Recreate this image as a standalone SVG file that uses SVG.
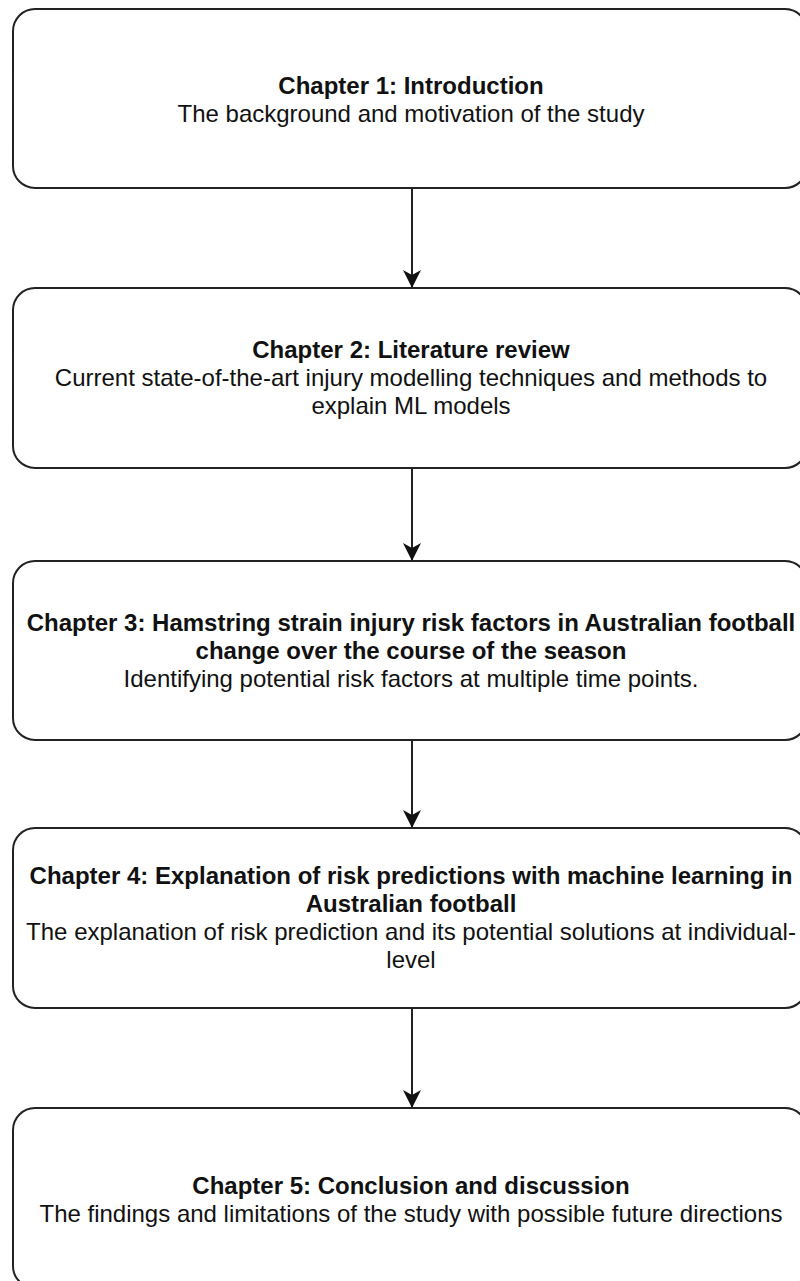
<svg xmlns="http://www.w3.org/2000/svg" width="800" height="1281" viewBox="0 0 800 1281">
<style>
.box{fill:#fff;stroke:#222;stroke-width:2}
.t{font-family:"Liberation Sans",Arial,Helvetica,sans-serif;font-size:24px;fill:#111;text-anchor:middle}
.b{font-weight:bold}
.edge{stroke:#222;stroke-width:2;fill:none}
</style>
<defs>
<marker id="arr" viewBox="0 0 18 18" refX="18" refY="9" markerWidth="18" markerHeight="18" markerUnits="userSpaceOnUse" orient="auto">
<path d="M0,0 L18,9 L0,18 L5,9 Z" fill="#111"/>
</marker>
</defs>
<rect width="800" height="1281" fill="#fff"/>
<g id="connectors">
<line class="edge" x1="412" y1="188" x2="412" y2="288" marker-end="url(#arr)"/>
<line class="edge" x1="412" y1="468" x2="412" y2="561" marker-end="url(#arr)"/>
<line class="edge" x1="412" y1="740" x2="412" y2="828" marker-end="url(#arr)"/>
<line class="edge" x1="412" y1="1008" x2="412" y2="1108" marker-end="url(#arr)"/>
</g>
<g id="ch1">
<rect class="box" x="13" y="9" width="794" height="179" rx="22" ry="22"/>
<text class="t b" x="411" y="94">Chapter 1: Introduction</text>
<text class="t" x="411" y="122">The background and motivation of the study</text>
</g>
<g id="ch2">
<rect class="box" x="13" y="288" width="794" height="180" rx="22" ry="22"/>
<text class="t b" x="411" y="358">Chapter 2: Literature review</text>
<text class="t" x="411" y="386">Current state-of-the-art injury modelling techniques and methods to</text>
<text class="t" x="411" y="414">explain ML models</text>
</g>
<g id="ch3">
<rect class="box" x="13" y="561" width="794" height="179" rx="22" ry="22"/>
<text class="t b" x="411" y="631">Chapter 3: Hamstring strain injury risk factors in Australian football</text>
<text class="t b" x="411" y="659">change over the course of the season</text>
<text class="t" x="411" y="687">Identifying potential risk factors at multiple time points.</text>
</g>
<g id="ch4">
<rect class="box" x="13" y="828" width="794" height="180" rx="22" ry="22"/>
<text class="t b" x="411" y="884">Chapter 4: Explanation of risk predictions with machine learning in</text>
<text class="t b" x="411" y="912">Australian football</text>
<text class="t" x="411" y="940">The explanation of risk prediction and its potential solutions at individual-</text>
<text class="t" x="411" y="968">level</text>
</g>
<g id="ch5">
<rect class="box" x="13" y="1108" width="794" height="180" rx="22" ry="22"/>
<text class="t b" x="411" y="1194">Chapter 5: Conclusion and discussion</text>
<text class="t" x="411" y="1222">The findings and limitations of the study with possible future directions</text>
</g>
</svg>
